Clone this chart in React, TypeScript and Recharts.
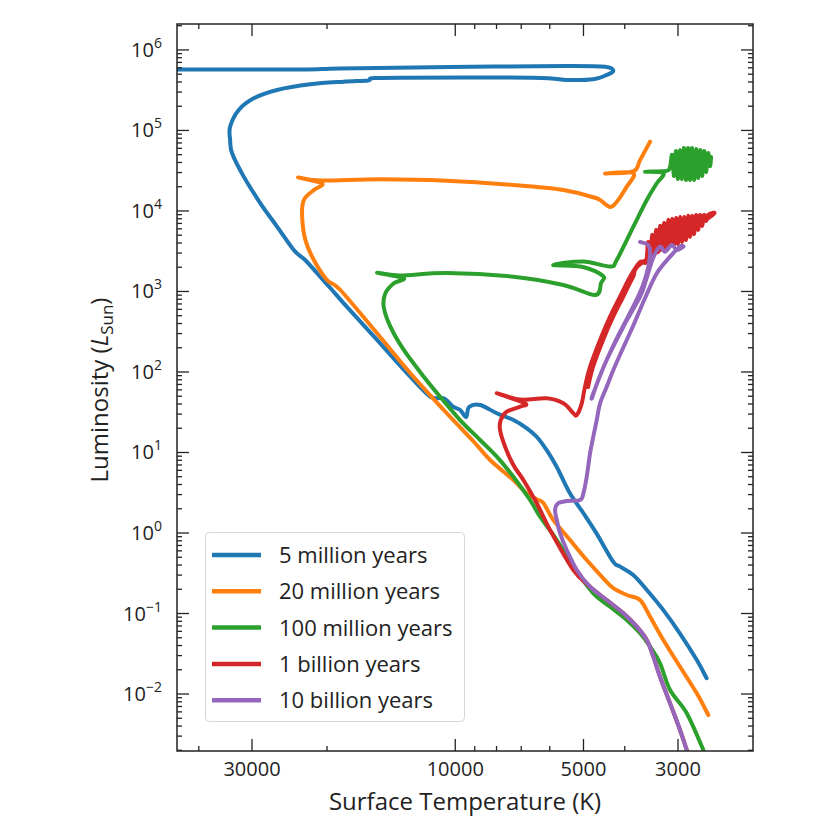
import React from 'react';
import { LineChart, Line, XAxis, YAxis, Legend } from 'recharts';

const FONT = '"Open Sans", "Noto Sans", sans-serif';
const INK = '#222222';

const PLOT = { left: 177, top: 24, right: 753, bottom: 751 };

const seriesNames = ['5 million years', '20 million years', '100 million years', '1 billion years', '10 billion years'];
const seriesColors = ['#1f77b4', '#ff7f0e', '#2ca02c', '#d62728', '#9467bd'];

const tempDomain = [2000, 45000];
const lumDomain = [0.00196, 2.1e6];

const xMajorTicks = [30000, 10000, 5000, 3000];
const xMinorTicks = [40000, 20000, 9000, 8000, 7000, 6000, 4000];
const yMajorTicks = [1e-2, 1e-1, 1, 10, 100, 1e3, 1e4, 1e5, 1e6];
const yMinorTicks = [1e-3, ...yMajorTicks]
  .flatMap((d) => [2, 3, 4, 5, 6, 7, 8, 9].map((m) => m * d))
  .filter((v) => v > lumDomain[0] && v < lumDomain[1]);

// [surface temperature K, luminosity L_sun], in isochrone order (low mass first)
const myr5 = [
  [2570, 0.0157], [2710, 0.0264], [2970, 0.0568], [3250, 0.111], [3550, 0.196], [3820, 0.301],
  [4100, 0.382], [4260, 0.44], [4660, 0.99], [5000, 1.76], [5380, 3.11], [5780, 6.66], [6100, 10.7],
  [6440, 15.7], [6790, 20.0], [7300, 25.3], [7990, 30.7], [8740, 38.9], [9280, 36.7], [9430, 27.6],
  [9740, 33.7], [10120, 37.1], [10640, 47.1], [11440, 49.3], [12750, 87.4], [15260, 250], [18270, 713],
  [19460, 1043], [21100, 1683], [22510, 2462], [23940, 3277], [26200, 6381], [28670, 12460],
  [31370, 26690], [33410, 52080], [33770, 76170], [33770, 111500], [32230, 179700], [29720, 251000],
  [26200, 318400], [21910, 374800], [18270, 403700], [16020, 417800], [15680, 444900], [13480, 452600],
  [6570, 452600], [5470, 423800], [4740, 432500], [4410, 489000], [4255, 553000], [4450, 620000],
  [5470, 632500], [10280, 614700], [18640, 589000], [23140, 572300], [45000, 572300],
];

const myr20 = [
  [2546, 0.00548], [2710, 0.0102], [2967, 0.0218], [3247, 0.0469], [3488, 0.0913], [3682, 0.147],
  [3957, 0.17], [4255, 0.206], [4492, 0.274], [4913, 0.462], [5377, 0.818], [5884, 1.45], [6211, 2.36],
  [6426, 2.61], [6794, 3.11], [7304, 4.55], [8284, 8.07], [9047, 13.6], [10641, 33.7], [12745, 96.3],
  [15260, 302], [18610, 1043], [20000, 1389], [21480, 2462], [22480, 4361], [22880, 8495],
  [22670, 13700], [21480, 18220], [20540, 21960], [23390, 26060], [20770, 23920], [15020, 24760],
  [10470, 23780], [7304, 21030], [5574, 18220], [4655, 14380], [4292, 11310], [3957, 20040],
  [3824, 29650], [4450, 29230], [3824, 30940], [3682, 42990], [3488, 72560],
];

const myr100 = [
  [2616, 0.00202], [2861, 0.00576], [3131, 0.0112], [3306, 0.0241], [3488, 0.0387], [3682, 0.0568],
  [3957, 0.0831], [4331, 0.1215], [4742, 0.178], [5281, 0.3815], [5776, 0.818], [6323, 1.594],
  [6674, 2.57], [7304, 5.0], [7990, 8.87], [8743, 14.3], [9743, 25.3], [10855, 49.3], [11855, 87.4],
  [13210, 187.6], [14200, 365], [14720, 647], [14590, 950], [13940, 1264], [13210, 1458], [15260, 1712],
  [13480, 1580], [10470, 1697], [7304, 1527], [5574, 1204], [4697, 904], [4547, 1275], [4498, 1558],
  [5012, 2015], [5894, 2134], [5012, 2358], [4331, 2044], [4177, 2462], [3818, 6381], [3551, 13700],
  [3364, 22080], [3247, 29400], [3584, 30760], [3200, 31400], [3131, 35500],
  [3097, 49610], [3064, 27210], [3031, 55620], [2999, 24970], [2967, 57230], [2935, 24970],
  [2903, 60610], [2872, 24270], [2841, 60610], [2811, 24270], [2781, 60610], [2751, 24270],
  [2721, 58880], [2692, 25690], [2663, 57230], [2634, 27210], [2606, 55620], [2578, 30510],
  [2550, 52530], [2523, 36230], [2509, 46850],
];

const gyr1 = [
  [2861, 0.00202], [2967, 0.00357], [3131, 0.00766], [3306, 0.0164], [3427, 0.0291], [3551, 0.0469],
  [3748, 0.0686], [4030, 0.1006], [4410, 0.147], [4826, 0.215], [5281, 0.347], [5990, 1.09],
  [6436, 2.34], [6921, 4.55], [7304, 6.99], [7638, 11.8], [7850, 19.0], [7819, 25.3], [7571, 32.1],
  [7044, 37.1], [6857, 40.8], [7990, 54.4], [7044, 45.5], [6100, 47.1], [5574, 40.8], [5281, 30.7],
  [5184, 29.2], [5047, 40.8], [4959, 65.7], [4826, 116], [4571, 250], [4331, 486], [4104, 861],
  [3887, 1527], [3682, 2325],
  [3565, 2325], [3527, 4120], [3488, 2607], [3451, 5032], [3414, 2840], [3378, 5806], [3341, 3095],
  [3306, 6510], [3270, 3372], [3235, 7095], [3200, 3470], [3166, 7731], [3131, 3674], [3097, 7954],
  [3064, 3780], [3031, 8185], [2999, 3890], [2967, 8423], [2935, 4120], [2903, 8423], [2872, 4361],
  [2841, 8666], [2811, 4753], [2781, 8666], [2751, 5178], [2721, 8917], [2692, 5806], [2663, 8917],
  [2634, 6510], [2606, 8917], [2578, 7510], [2550, 8917], [2523, 8423],
  [3623, 2325], [3824, 1514], [4037, 854], [4262, 482], [4498, 250], [4749, 115.3], [4878, 65.1],
];

const gyr10 = [
  [2861, 0.00202], [2967, 0.00357], [3131, 0.00766], [3306, 0.0164], [3427, 0.0291], [3551, 0.0469],
  [3748, 0.0686], [4030, 0.1006], [4410, 0.147], [4826, 0.215], [5184, 0.347], [5473, 0.615],
  [5674, 0.991], [5776, 1.45], [5830, 1.93], [5735, 2.34], [5473, 2.5], [5093, 2.57], [5003, 3.11],
  [4913, 5.0], [4826, 9.77], [4742, 15.7], [4655, 25.3], [4571, 40.8], [4410, 65.7], [4255, 105.9],
  [4037, 198.7], [3824, 372.8], [3584, 830], [3364, 1683], [3131, 2705], [2967, 3600], [2914, 3600],
  [3020, 3277], [3102, 3780], [3218, 3121], [3306, 3600], [3432, 2607], [3565, 1389], [3682, 861],
  [4030, 365], [4410, 141], [4742, 54.4], [4774, 47.5], [4671, 67.0], [4475, 118.7], [4126, 296.5],
  [3804, 679.5], [3623, 1204], [3527, 1957], [3488, 3007], [3527, 3780], [3682, 4120],
];

const seriesData = [myr5, myr20, myr100, gyr1, gyr10].map((s) => s.map(([t, l]) => ({ t, l })));

// smooth curve through every point (Catmull-Rom as cubic Béziers)
function smoothCurve(context: any) {
  let pts: number[][] = [];
  return {
    areaStart() {},
    areaEnd() {},
    lineStart() {
      pts = [];
    },
    point(x: number, y: number) {
      pts.push([+x, +y]);
    },
    lineEnd() {
      const n = pts.length;
      if (!n) return;
      context.moveTo(pts[0][0], pts[0][1]);
      for (let i = 0; i < n - 1; i++) {
        const p0 = pts[Math.max(i - 1, 0)];
        const p1 = pts[i];
        const p2 = pts[i + 1];
        const p3 = pts[Math.min(i + 2, n - 1)];
        context.bezierCurveTo(
          p1[0] + (p2[0] - p0[0]) / 6,
          p1[1] + (p2[1] - p0[1]) / 6,
          p2[0] - (p3[0] - p1[0]) / 6,
          p2[1] - (p3[1] - p1[1]) / 6,
          p2[0],
          p2[1],
        );
      }
    },
  };
}

function XTick(props: any) {
  const { x, payload } = props;
  const v = payload.value;
  const major = xMajorTicks.includes(v);
  const len = major ? 12 : 5;
  return (
    <g>
      <line x1={x} x2={x} y1={PLOT.bottom} y2={PLOT.bottom - len} stroke={INK} strokeWidth={1.3} />
      <line x1={x} x2={x} y1={PLOT.top} y2={PLOT.top + len} stroke={INK} strokeWidth={1.3} />
      {major && (
        <text x={x} y={PLOT.bottom + 25} textAnchor="middle" fontSize={20} fill={INK} fontFamily={FONT}>
          {v}
        </text>
      )}
    </g>
  );
}

function YTick(props: any) {
  const { y, payload } = props;
  const v = payload.value;
  const major = yMajorTicks.includes(v);
  const len = major ? 12 : 5;
  const exp = Math.round(Math.log10(v));
  return (
    <g>
      <line x1={PLOT.left} x2={PLOT.left + len} y1={y} y2={y} stroke={INK} strokeWidth={1.3} />
      <line x1={PLOT.right - len} x2={PLOT.right} y1={y} y2={y} stroke={INK} strokeWidth={1.3} />
      {major && (
        <text x={PLOT.left - 15} y={y + 7} textAnchor="end" fontSize={20} fill={INK} fontFamily={FONT}>
          10
          <tspan fontSize={14} dy={-9}>{exp < 0 ? '\u2212' + Math.abs(exp) : exp}</tspan>
        </text>
      )}
    </g>
  );
}

const XLabel = () => (
  <text x={(PLOT.left + PLOT.right) / 2} y={810} textAnchor="middle" fontSize={24} fill={INK} fontFamily={FONT}>
    Surface Temperature (K)
  </text>
);

const YLabel = () => (
  <text
    transform="translate(108, 390) rotate(-90)"
    textAnchor="middle"
    fontSize={24}
    fill={INK}
    fontFamily={FONT}
  >
    Luminosity (<tspan fontStyle="italic">L</tspan>
    <tspan fontSize={17} dy={5}>Sun</tspan>
    <tspan dy={-5}>)</tspan>
  </text>
);

const renderLegend = () => (
  <svg width={260} height={190} style={{ display: 'block' }}>
    <rect x={0.5} y={0.5} width={259} height={189} rx={4} fill="rgba(255,255,255,0.85)" stroke="#d6d6d6" />
    {seriesNames.map((name, i) => (
      <g key={name}>
        <line x1={7} x2={56} y1={23 + i * 36.3} y2={23 + i * 36.3} stroke={seriesColors[i]} strokeWidth={4.5} />
        <text x={74} y={23 + i * 36.3 + 8} fontSize={22} fill={INK} fontFamily={FONT}>
          {name}
        </text>
      </g>
    ))}
  </svg>
);

export default function App() {
  return (
    <div style={{ position: 'absolute', left: 0, top: 0, width: 837, height: 837, background: '#fff' }}>
      <LineChart
        width={837}
        height={837}
        margin={{ top: PLOT.top, right: 837 - PLOT.right, bottom: 26, left: PLOT.left - 60 }}
      >
        <XAxis
          type="number"
          dataKey="t"
          scale="log"
          domain={tempDomain}
          reversed
          allowDataOverflow
          ticks={[...xMajorTicks, ...xMinorTicks]}
          interval={0}
          tick={<XTick />}
          tickLine={false}
          axisLine={false}
          height={60}
          label={<XLabel />}
        />
        <YAxis
          type="number"
          dataKey="l"
          scale="log"
          domain={lumDomain}
          allowDataOverflow
          ticks={[...yMajorTicks, ...yMinorTicks]}
          interval={0}
          tick={<YTick />}
          tickLine={false}
          axisLine={false}
          width={60}
          label={<YLabel />}
        />
        <Legend
          layout="vertical"
          align="center"
          verticalAlign="middle"
          content={renderLegend}
          wrapperStyle={{ left: 205, top: 532, width: 260, height: 190 }}
        />
        {seriesData.map((d, i) => (
          <Line
            key={seriesNames[i]}
            name={seriesNames[i]}
            data={d}
            dataKey="l"
            type={smoothCurve as any}
            stroke={seriesColors[i]}
            strokeWidth={4}
            strokeLinejoin="round"
            strokeLinecap="round"
            dot={false}
            activeDot={false}
            isAnimationActive={false}
          />
        ))}
      </LineChart>
      <svg
        width={837}
        height={837}
        style={{ position: 'absolute', left: 0, top: 0, pointerEvents: 'none' }}
      >
        <rect
          x={PLOT.left}
          y={PLOT.top}
          width={PLOT.right - PLOT.left}
          height={PLOT.bottom - PLOT.top}
          fill="none"
          stroke={INK}
          strokeWidth={1.5}
        />
      </svg>
    </div>
  );
}
